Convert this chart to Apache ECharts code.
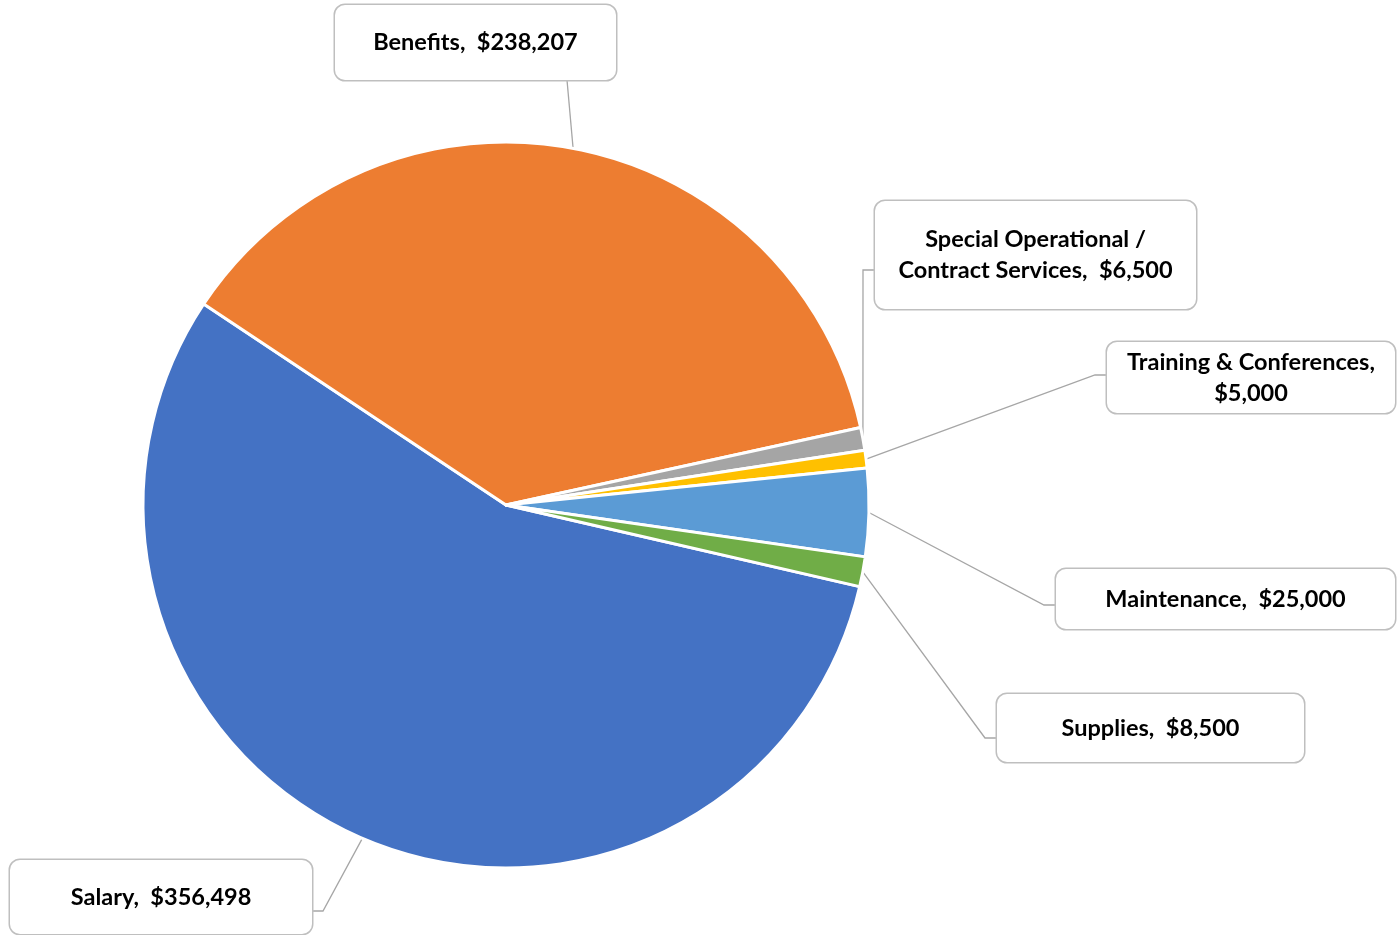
<!DOCTYPE html>
<html>
<head>
<meta charset="utf-8">
<script src="https://cdn.jsdelivr.net/npm/echarts@6/dist/echarts.min.js"></script>
<style>
  html, body { margin: 0; padding: 0; background: #ffffff; }
  #chart { width: 1397px; height: 935px; }
</style>
</head>
<body>
<div id="chart"></div>
<script>
// Budget categories and amounts (USD)
const categories = ['Salary', 'Benefits', 'Special Operational /\nContract Services', 'Training & Conferences', 'Maintenance', 'Supplies'];
const amounts = [356498, 238207, 6500, 5000, 25000, 8500];
const sliceColors = ['#4472C4', '#ED7D31', '#A5A5A5', '#FFC000', '#5B9BD5', '#70AD47'];

// Callout boxes: placement, size, where the leader line meets the box,
// and whether the amount goes on its own line.
const callouts = [
  { left: 10,   top: 860, width: 302, height: 74,  side: 'right',  attachY: 911, newline: false },
  { left: 335,  top: 5,   width: 281, height: 75,  side: 'bottom', attachX: 567, newline: false },
  { left: 875,  top: 201, width: 321, height: 108, side: 'left',   attachY: 270, newline: false },
  { left: 1107, top: 342, width: 288, height: 71,  side: 'left',   attachY: 375, newline: true },
  { left: 1056, top: 569, width: 339, height: 60,  side: 'left',   attachY: 605, newline: false },
  { left: 997,  top: 694, width: 307, height: 68,  side: 'left',   attachY: 738, newline: false }
];

const CENTER = [506, 505];
const RADIUS = 363;
const START_ANGLE = -13;
const LINE_HEIGHT = 31;
const TEXT_NUDGE = 1.5; // text sits slightly below the box centre

const fmtMoney = v => '$' + v.toLocaleString('en-US');

function lineCount(i) {
  const nameLines = categories[i].split('\n').length;
  return nameLines + (callouts[i].newline ? 1 : 0);
}

// outer-edge point at the middle of slice i (fallback for leader-line start)
function sliceEdgePoint(i) {
  const total = amounts.reduce((a, b) => a + b, 0);
  let before = 0;
  for (let k = 0; k < i; k++) before += amounts[k];
  const mid = (START_ANGLE - (before + amounts[i] / 2) / total * 360) * Math.PI / 180;
  return [CENTER[0] + RADIUS * Math.cos(mid), CENTER[1] - RADIUS * Math.sin(mid)];
}

const chart = echarts.init(document.getElementById('chart'), null, { renderer: 'canvas' });

chart.setOption({
  backgroundColor: '#ffffff',
  animation: false,
  series: [{
    type: 'pie',
    center: CENTER,
    radius: RADIUS,
    startAngle: START_ANGLE,
    clockwise: true,
    avoidLabelOverlap: false,
    itemStyle: { borderColor: '#ffffff', borderWidth: 3 },
    label: {
      show: true,
      position: 'outside',
      formatter: p => p.name + (callouts[p.dataIndex].newline ? ',\n' : ',  ') + fmtMoney(p.value),
      fontFamily: 'Lato',
      fontWeight: 'bold',
      fontSize: 23.5,
      lineHeight: LINE_HEIGHT,
      color: '#000000',
      align: 'center',
      backgroundColor: '#ffffff',
      borderColor: '#BFBFBF',
      borderWidth: 1.5,
      borderRadius: 10
    },
    labelLine: {
      show: true,
      length: 20,
      length2: 20,
      smooth: false,
      lineStyle: { color: '#A6A6A6', width: 1.3 }
    },
    emphasis: { disabled: true },
    labelLayout: function (params) {
      const i = params.dataIndex;
      const c = callouts[i];
      const start = (params.labelLinePoints && params.labelLinePoints[0]) || sliceEdgePoint(i);
      let pts;
      if (c.side === 'left') {
        pts = [start, [c.left - 12, c.attachY], [c.left, c.attachY]];
      } else if (c.side === 'right') {
        pts = [start, [c.left + c.width + 11, c.attachY], [c.left + c.width, c.attachY]];
      } else {
        pts = [start, [c.attachX, c.top + c.height]];
      }
      return {
        x: c.left + c.width / 2,
        y: c.top + c.height / 2,
        align: 'center',
        verticalAlign: 'middle',
        labelLinePoints: pts
      };
    },
    data: categories.map((name, i) => {
      const c = callouts[i];
      const pv = (c.height - lineCount(i) * LINE_HEIGHT) / 2;
      return {
        name: name,
        value: amounts[i],
        itemStyle: { color: sliceColors[i] },
        label: { width: c.width, padding: [pv + TEXT_NUDGE, 0, pv - TEXT_NUDGE, 0] }
      };
    })
  }]
});
</script>
</body>
</html>
